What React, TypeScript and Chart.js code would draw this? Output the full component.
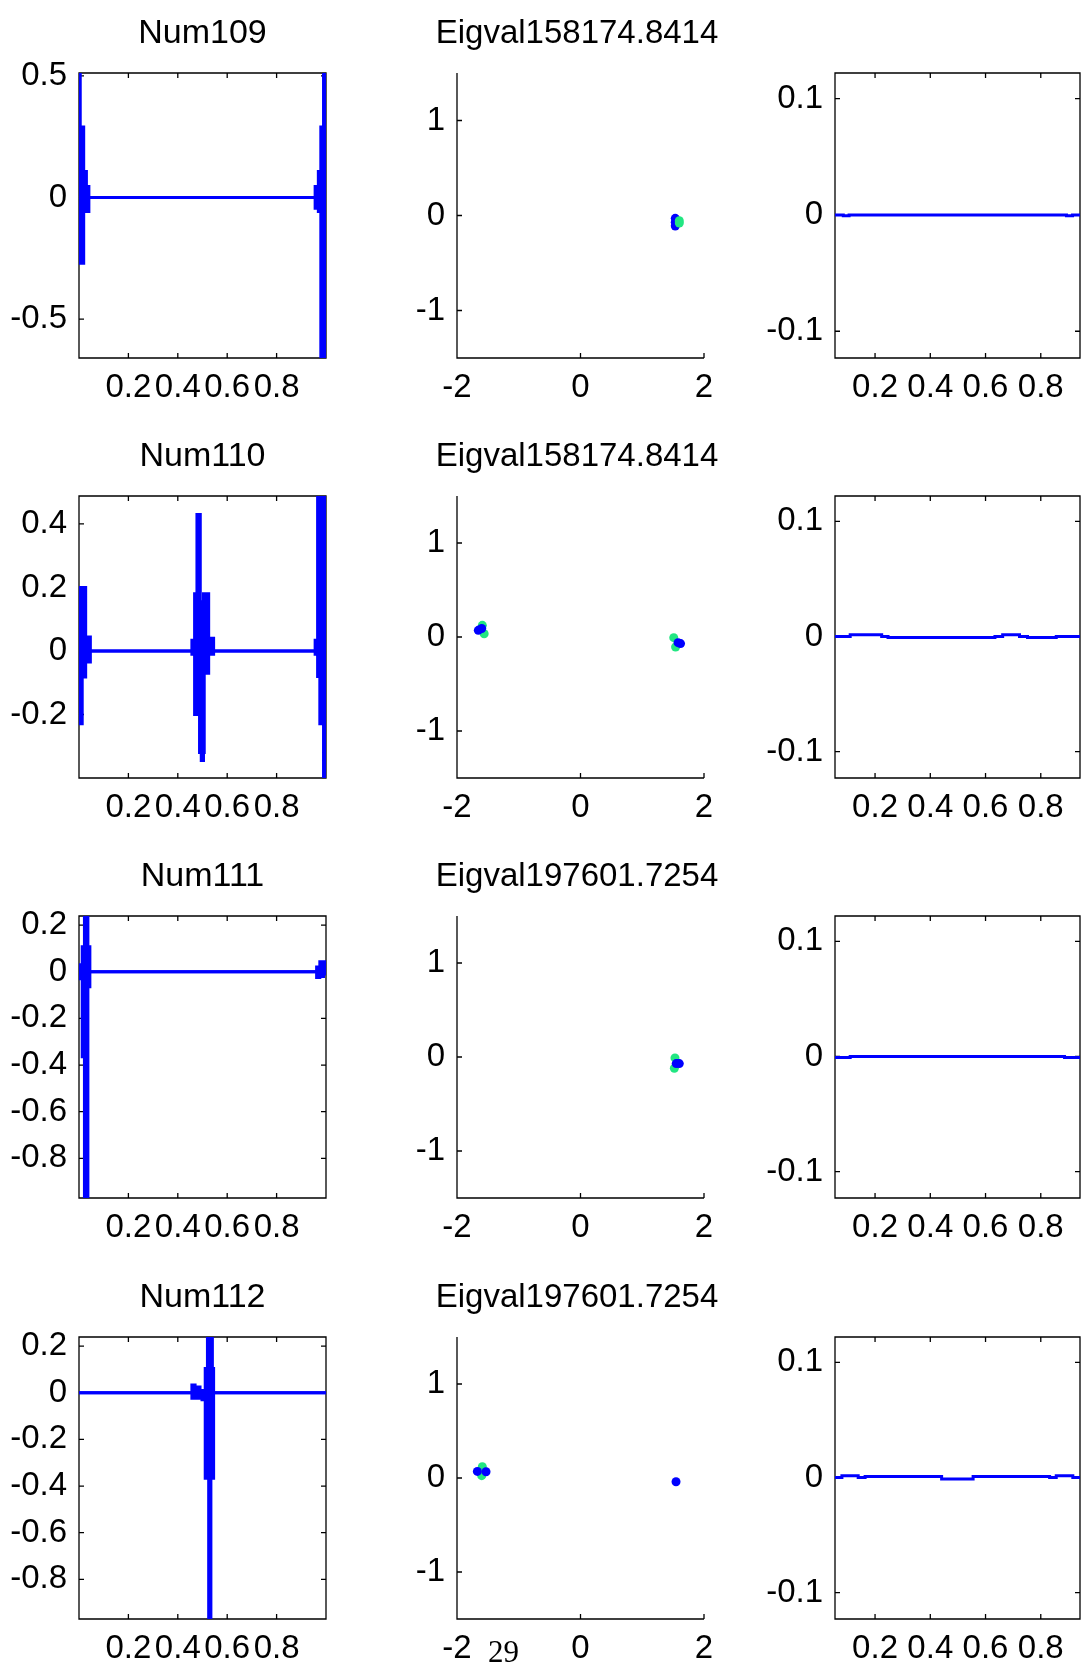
import React, { useEffect, useRef } from 'react';
import { Chart, registerables } from 'chart.js';

Chart.register(...registerables);

const FONT = '"Liberation Sans", Arial, Helvetica, sans-serif';
const BLUE = '#0000ff';
const GREEN = '#22e682';

// ---------- titles ----------
const leftTitles = ['Num109', 'Num110', 'Num111', 'Num112'];
const middleTitles = ['Eigval158174.8414', 'Eigval158174.8414', 'Eigval197601.7254', 'Eigval197601.7254'];

// ---------- left column: eigenvector (dense oscillation drawn as upper / lower envelope) ----------
const num109X = [0, 0.005, 0.019, 0.03, 0.04, 0.956, 0.969, 0.979, 0.99, 1];
const num109Upper = [0.55, 0.29, 0.107, 0.045, 0, 0.045, 0.107, 0.29, 0.55, 0.55];
const num109Lower = [-0.27, -0.27, -0.058, -0.058, 0, -0.044, -0.058, -0.7, -0.7, -0.7];

const num110X = [0, 0.006, 0.013, 0.027, 0.046, 0.457, 0.468, 0.4775, 0.488, 0.491, 0.495, 0.504, 0.507, 0.525, 0.545, 0.956, 0.966, 0.975, 0.99, 1];
const num110Upper = [0.2, 0.2, 0.2, 0.044, 0, 0.034, 0.18, 0.43, 0.43, 0.155, 0.155, 0.18, 0.18, 0.04, 0, 0.034, 0.55, 0.55, 0.55, 0.55];
const num110Lower = [-0.229, -0.229, -0.082, -0.035, 0, -0.01, -0.2, -0.2, -0.32, -0.32, -0.345, -0.32, -0.07, -0.01, 0, -0.01, -0.08, -0.229, -0.45, -0.45];

const num111X = [0, 0.013, 0.02, 0.022, 0.036, 0.044, 0.962, 0.975, 0.99, 1];
const num111Upper = [0.03, 0.107, 0.107, 0.26, 0.107, 0, 0.02, 0.043, 0.043, 0.043];
const num111Lower = [-0.03, -0.364, -0.064, -1.0, -0.064, 0, -0.025, -0.02, -0.01, -0.01];

const num112X = [0, 0.457, 0.47, 0.478, 0.49, 0.498, 0.511, 0.52, 0.525, 0.534, 0.54, 0.545, 1];
const num112Upper = [0, 0.033, 0.005, 0.025, 0.005, 0.01, 0.104, 0.26, 0.26, 0.26, 0.104, 0, 0];
const num112Lower = [0, -0.024, -0.01, -0.024, -0.01, -0.03, -0.367, -0.367, -1.0, -0.367, -0.367, 0, 0];

const leftXs = [num109X, num110X, num111X, num112X];
const leftUppers = [num109Upper, num110Upper, num111Upper, num112Upper];
const leftLowers = [num109Lower, num110Lower, num111Lower, num112Lower];

const leftXMin = 0;
const leftXMax = 1;
const leftYMin = [-0.66, -0.4, -0.97, -0.97];
const leftYMax = [0.512, 0.488, 0.239, 0.239];
const leftXTicks = [0.2, 0.4, 0.6, 0.8];
const leftYTicks = [
  [-0.5, 0, 0.5],
  [-0.2, 0, 0.2, 0.4],
  [-0.8, -0.6, -0.4, -0.2, 0, 0.2],
  [-0.8, -0.6, -0.4, -0.2, 0, 0.2],
];

// ---------- middle column: scatter ----------
const mid1BlueX = [1.535, 1.535, 1.535];
const mid1BlueY = [-0.03, -0.07, -0.11];
const mid1GreenX = [1.6, 1.6];
const mid1GreenY = [-0.055, -0.08];

const mid2BlueX = [-1.655, -1.6, 1.58, 1.62];
const mid2BlueY = [0.071, 0.09, -0.06, -0.07];
const mid2GreenX = [-1.59, -1.56, 1.51, 1.54];
const mid2GreenY = [0.124, 0.035, -0.007, -0.106];

const mid3BlueX = [1.55, 1.6];
const mid3BlueY = [-0.07, -0.07];
const mid3GreenX = [1.53, 1.52];
const mid3GreenY = [-0.01, -0.12];

const mid4BlueX = [-1.67, -1.53, 1.547];
const mid4BlueY = [0.07, 0.067, -0.04];
const mid4GreenX = [-1.59, -1.6];
const mid4GreenY = [0.12, 0.025];

const midBlueX = [mid1BlueX, mid2BlueX, mid3BlueX, mid4BlueX];
const midBlueY = [mid1BlueY, mid2BlueY, mid3BlueY, mid4BlueY];
const midGreenX = [mid1GreenX, mid2GreenX, mid3GreenX, mid4GreenX];
const midGreenY = [mid1GreenY, mid2GreenY, mid3GreenY, mid4GreenY];
const greenOnTop = [true, false, false, false];

const midXMin = -2;
const midXMax = 2;
const midYMin = -1.5;
const midYMax = 1.5;
const midXTicks = [-2, 0, 2];
const midYTicks = [-1, 0, 1];

// ---------- right column: nearly flat line ----------
const right109X = [0.055, 0.085, 0.106, 0.893, 0.915, 0.942];
const right109Y = [0, -0.0008, 0, -0.0008, 0, 0];
const right110X = [0.055, 0.11, 0.224, 0.247, 0.634, 0.662, 0.723, 0.752, 0.856, 0.942];
const right110Y = [0, 0.0014, 0, -0.0009, 0, 0.0014, 0, -0.0009, 0, 0];
const right111X = [0.055, 0.11, 0.886, 0.942];
const right111Y = [-0.001, 0, -0.001, -0.001];
const right112X = [0.055, 0.08, 0.139, 0.164, 0.441, 0.555, 0.832, 0.856, 0.916, 0.942];
const right112Y = [0, 0.0014, 0, 0.0007, -0.0014, 0.0007, 0, 0.0014, 0, 0];

const rightXs = [right109X, right110X, right111X, right112X];
const rightYs = [right109Y, right110Y, right111Y, right112Y];
const rightXMin = 0.055;
const rightXMax = 0.942;
const rightYMin = -0.123;
const rightYMax = 0.122;
const rightXTicks = [0.2, 0.4, 0.6, 0.8];
const rightYTicks = [-0.1, 0, 0.1];

// ---------- layout ----------
const ROW_TOP = [73, 496, 916, 1337];
const ROW_BOTTOM = [358, 778, 1198, 1619];
const TITLE_H = 62;
const XAXIS_H = 50;
// spacerW: width of an empty right-hand box (keeps a full-width title centred at 577)
const COLS = [
  { canvasLeft: 0, yAxisW: 79, plotRight: 326, padRight: 30, spacerW: 0, titleSize: 34, titleFull: false },
  { canvasLeft: 340, yAxisW: 117, plotRight: 704, padRight: 0, spacerW: 110, titleSize: 33, titleFull: true },
  { canvasLeft: 740, yAxisW: 95, plotRight: 1080, padRight: 2, spacerW: 0, titleSize: 33, titleFull: false },
];

const matlabAxes = {
  id: 'matlabAxes',
  beforeDatasetsDraw(chart: any, _args: any, opts: any) {
    const { ctx, chartArea: a, scales } = chart;
    const xs = scales.x;
    const ys = scales.y;
    const L = 5;
    ctx.save();
    ctx.strokeStyle = '#000';
    ctx.lineWidth = 1.3;
    ctx.beginPath();
    if (opts.box) {
      ctx.rect(a.left, a.top, a.right - a.left, a.bottom - a.top);
    } else {
      ctx.moveTo(a.left, a.top);
      ctx.lineTo(a.left, a.bottom);
      ctx.lineTo(a.right, a.bottom);
    }
    xs.ticks.forEach((t: any) => {
      const px = xs.getPixelForValue(t.value);
      ctx.moveTo(px, a.bottom);
      ctx.lineTo(px, a.bottom - L);
      if (opts.box) {
        ctx.moveTo(px, a.top);
        ctx.lineTo(px, a.top + L);
      }
    });
    ys.ticks.forEach((t: any) => {
      const py = ys.getPixelForValue(t.value);
      ctx.moveTo(a.left, py);
      ctx.lineTo(a.left + L, py);
      if (opts.box) {
        ctx.moveTo(a.right, py);
        ctx.lineTo(a.right - L, py);
      }
    });
    ctx.stroke();
    ctx.restore();
  },
};

function axis(min: number, max: number, tickVals: number[], isX: boolean, size: number, pad: number) {
  return {
    type: 'linear',
    min,
    max,
    afterBuildTicks: (s: any) => {
      s.ticks = tickVals.map((v) => ({ value: v }));
    },
    afterFit: (s: any) => {
      if (isX) s.height = size;
      else s.width = size;
    },
    grid: { display: false, drawTicks: false },
    border: { display: false },
    ticks: {
      autoSkip: false,
      maxRotation: 0,
      minRotation: 0,
      padding: pad,
      color: '#000',
      font: { family: FONT, size: 33 },
      callback: (v: any) => String(v),
    },
  };
}

function spacerAxis(width: number) {
  return {
    type: 'linear',
    position: 'right',
    min: 0,
    max: 1,
    afterFit: (s: any) => {
      s.width = width;
    },
    grid: { display: false, drawTicks: false },
    border: { display: false },
    ticks: { display: false },
  };
}

function titleOpts(text: string | null, size: number, fullSize: boolean) {
  if (!text) return { display: false };
  const line = size * 1.2;
  const bottom = 39 - line / 2;
  const top = TITLE_H - line - bottom;
  return {
    display: true,
    text,
    fullSize,
    color: '#000',
    font: { family: FONT, size, weight: 'normal', lineHeight: 1.2 },
    padding: { top, bottom },
  };
}

function pts(xs: number[], ys: number[]) {
  return xs.map((x, i) => ({ x, y: ys[i] }));
}

function buildConfig(col: number, row: number): any {
  const c = COLS[col];
  const layoutPad = { left: 0, right: c.padRight, top: col === 2 ? TITLE_H : 0, bottom: 0 };
  let datasets: any[] = [];
  let xMin = 0, xMax = 1, yMin = 0, yMax = 1;
  let xT: number[] = [], yT: number[] = [];
  let title: string | null = null;
  let box = true;
  if (col === 0) {
    datasets = [
      {
        data: pts(leftXs[row], leftUppers[row]),
        borderColor: BLUE,
        backgroundColor: BLUE,
        borderWidth: 3,
        pointRadius: 0,
        stepped: true,
        fill: '+1',
      },
      {
        data: pts(leftXs[row], leftLowers[row]),
        borderColor: BLUE,
        backgroundColor: BLUE,
        borderWidth: 3,
        pointRadius: 0,
        stepped: true,
        fill: false,
      },
    ];
    xMin = leftXMin; xMax = leftXMax; yMin = leftYMin[row]; yMax = leftYMax[row];
    xT = leftXTicks; yT = leftYTicks[row];
    title = leftTitles[row];
  } else if (col === 1) {
    const blue = {
      data: pts(midBlueX[row], midBlueY[row]),
      backgroundColor: BLUE,
      borderColor: BLUE,
      borderWidth: 0,
      pointRadius: 4.5,
      showLine: false,
    };
    const green = {
      data: pts(midGreenX[row], midGreenY[row]),
      backgroundColor: GREEN,
      borderColor: GREEN,
      borderWidth: 0,
      pointRadius: 4.5,
      showLine: false,
    };
    datasets = greenOnTop[row] ? [green, blue] : [blue, green];
    xMin = midXMin; xMax = midXMax; yMin = midYMin; yMax = midYMax;
    xT = midXTicks; yT = midYTicks;
    title = middleTitles[row];
    box = false;
  } else {
    datasets = [
      {
        data: pts(rightXs[row], rightYs[row]),
        borderColor: BLUE,
        backgroundColor: BLUE,
        borderWidth: 3,
        pointRadius: 0,
        stepped: true,
        fill: false,
      },
    ];
    xMin = rightXMin; xMax = rightXMax; yMin = rightYMin; yMax = rightYMax;
    xT = rightXTicks; yT = rightYTicks;
  }
  const scales: any = {
    x: axis(xMin, xMax, xT, true, XAXIS_H, 10),
    y: axis(yMin, yMax, yT, false, c.yAxisW, 12),
  };
  if (c.spacerW > 0) scales.spacer = spacerAxis(c.spacerW);
  return {
    type: col === 1 ? 'scatter' : 'line',
    data: { datasets },
    plugins: [matlabAxes],
    options: {
      animation: false,
      responsive: false,
      devicePixelRatio: 1,
      layout: { padding: layoutPad },
      plugins: {
        legend: { display: false },
        tooltip: { enabled: false },
        title: titleOpts(title, c.titleSize, c.titleFull),
        matlabAxes: { box },
      },
      scales,
    },
  };
}

function Panel({ col, row }: { col: number; row: number }) {
  const ref = useRef<HTMLCanvasElement>(null);
  const c = COLS[col];
  const width = c.plotRight + c.padRight + c.spacerW - c.canvasLeft;
  const height = TITLE_H + (ROW_BOTTOM[row] - ROW_TOP[row]) + XAXIS_H;
  const top = ROW_TOP[row] - TITLE_H;
  useEffect(() => {
    const chart = new Chart(ref.current as HTMLCanvasElement, buildConfig(col, row));
    return () => chart.destroy();
  }, [col, row]);
  return (
    <canvas
      ref={ref}
      width={width}
      height={height}
      style={{ position: 'absolute', left: c.canvasLeft, top, width, height }}
    />
  );
}

export default function App() {
  const panels: JSX.Element[] = [];
  for (let r = 0; r < 4; r++) {
    for (let c = 0; c < 3; c++) {
      panels.push(<Panel key={`${r}-${c}`} col={c} row={r} />);
    }
  }
  return (
    <div
      style={{
        position: 'absolute',
        left: 0,
        top: 0,
        width: 1082,
        height: 1669,
        background: '#fff',
        overflow: 'hidden',
      }}
    >
      {panels}
      <div
        style={{
          position: 'absolute',
          left: 488,
          top: 1636,
          fontFamily: '"Liberation Serif", "Times New Roman", serif',
          fontSize: 31,
          lineHeight: '31px',
          color: '#000',
        }}
      >
        29
      </div>
    </div>
  );
}
